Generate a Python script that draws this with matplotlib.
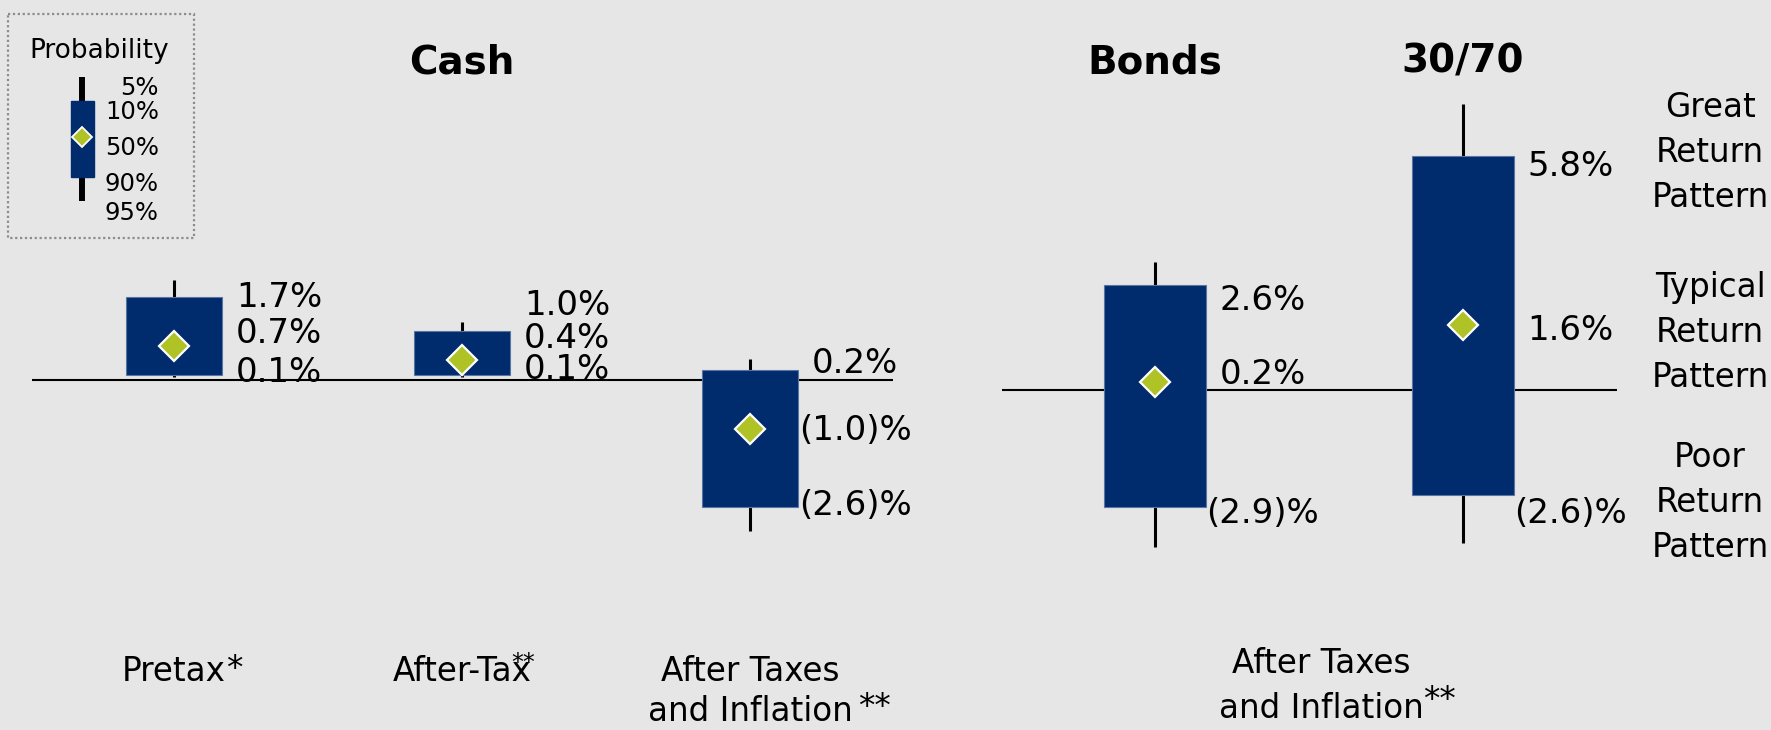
import matplotlib
matplotlib.use('Agg')
import matplotlib.pyplot as plt
from matplotlib.patches import Rectangle
import numpy as np

# ---------------- data ----------------
cash_title = 'Cash'
cash_categories = ['Pretax*', 'After-Tax**', 'After Taxes\nand Inflation**']
cash_whisker_hi = [2.05, 1.18, 0.43]
cash_box_hi = [1.7, 1.0, 0.2]
cash_median = [0.7, 0.4, -1.0]
cash_box_lo = [0.1, 0.1, -2.6]
cash_whisker_lo = [0.06, 0.06, -3.08]

mix_titles = ['Bonds', '30/70']
mix_category = 'After Taxes\nand Inflation**'
mix_whisker_hi = [3.17, 7.1]
mix_box_hi = [2.6, 5.8]
mix_median = [0.2, 1.6]
mix_box_lo = [-2.9, -2.6]
mix_whisker_lo = [-3.9, -3.8]

pattern_labels = [['Great', 'Return', 'Pattern'],
                  ['Typical', 'Return', 'Pattern'],
                  ['Poor', 'Return', 'Pattern']]
legend_title = 'Probability'
legend_pcts = ['5%', '10%', '50%', '90%', '95%']

# ---------------- style / layout ----------------
W, H, DPI = 1771, 730, 100
BG = '#e6e6e6'
NAVY = '#002b6d'
EDGE = '#5b75a3'
GREEN = '#afc326'
FS_VAL = 24.5

fig = plt.figure(figsize=(W / DPI, H / DPI), dpi=DPI, facecolor=BG)


def full_axes(x0_px, unit_x_px, zero_px_from_top, unit_y_px):
    ax = fig.add_axes([0, 0, 1, 1])
    ax.set_xlim(-x0_px / unit_x_px, (W - x0_px) / unit_x_px)
    zb = H - zero_px_from_top
    ax.set_ylim(-zb / unit_y_px, (H - zb) / unit_y_px)
    ax.set_axis_off()
    return ax


def fmt(v):
    return f'{v:.1f}%' if v >= 0 else f'({-v:.1f})%'


def draw_boxes(ax, whi, bhi, med, blo, wlo, width=0.33):
    x = np.arange(len(med))
    ax.vlines(x, wlo, whi, color='black', lw=2.2, zorder=2)
    ax.bar(x, np.array(bhi) - np.array(blo), bottom=blo, width=width,
           color=NAVY, edgecolor=EDGE, linewidth=0.8, zorder=3)
    ax.plot(x, med, ls='none', marker='D', ms=15.3, mfc=GREEN, mec='white',
            mew=1.6, zorder=4)


def draw_values(ax, bhi, med, blo, dx, offsets):
    for i in range(len(med)):
        for v, dy in zip([bhi[i], med[i], blo[i]], offsets[i]):
            ax.annotate(fmt(v), xy=(i + dx, v), xytext=(0, -dy),
                        textcoords='offset pixels', ha='center',
                        va='baseline', fontsize=FS_VAL, color='black',
                        zorder=5)


def draw_category(ax, x, label, base_px, spacing_px, star_off, star_fs, fs=23.5):
    base = label.rstrip('*')
    stars = label[len(base):]
    tr = ax.get_xaxis_transform()
    last = None
    for k, line in enumerate(base.split('\n')):
        yb = 1 - (base_px + k * spacing_px) / H
        last = ax.text(x, yb, line, transform=tr, ha='center', va='baseline',
                       fontsize=fs, color='black')
    if stars:
        ax.annotate(stars, xy=(1, 0), xycoords=last, xytext=star_off,
                    textcoords='offset pixels', ha='left', va='baseline',
                    fontsize=star_fs, color='black')


# ---------------- left panel: Cash ----------------
axL = full_axes(174, 288, 380, 49)
axL.hlines(0, -0.493, 2.497, color='black', lw=1.5, zorder=1)
draw_boxes(axL, cash_whisker_hi, cash_box_hi, cash_median, cash_box_lo,
           cash_whisker_lo)
draw_values(axL, cash_box_hi, cash_median, cash_box_lo, 0.365,
            [(10, -2.5, 7), (-16, -12, 3.5), (3, 11, 8)])
axL.text(1, 1 - 73 / H, cash_title, transform=axL.get_xaxis_transform(),
         ha='center', va='baseline', fontsize=28, fontweight='bold')
star_offsets = [(0, 9), (-20, 18), (6, 11)]
star_sizes = [23.5, 17, 23.5]
for i, lab in enumerate(cash_categories):
    draw_category(axL, i, lab, 681, 40, star_offsets[i], star_sizes[i])

# ---------------- right panel: Bonds & 30/70 ----------------
axR = full_axes(1155, 308, 390, 40.35)
axR.hlines(0, -0.497, 1.5, color='black', lw=1.5, zorder=1)
draw_boxes(axR, mix_whisker_hi, mix_box_hi, mix_median, mix_box_lo,
           mix_whisker_lo)
draw_values(axR, mix_box_hi, mix_median, mix_box_lo, 0.35,
            [(25, 2, 16), (20, 15, 28)])
for i, t in enumerate(mix_titles):
    axR.text(i, 1 - 73 / H, t, transform=axR.get_xaxis_transform(),
             ha='center', va='baseline', fontsize=28, fontweight='bold')
draw_category(axR, 0.539, mix_category, 673, 45, (0, 15), 23.5)

pattern_base_px = [117, 297, 467]
for grp, b in zip(pattern_labels, pattern_base_px):
    for k, line in enumerate(grp):
        axR.text(1.802, 1 - (b + 45 * k) / H, line,
                 transform=axR.get_xaxis_transform(), ha='center',
                 va='baseline', fontsize=23.5)

# ---------------- legend key ----------------
lax = fig.add_axes([7 / W, 1 - 239 / H, 188 / W, 226 / H])
lax.set_xlim(0, 188)
lax.set_ylim(226, 0)
lax.set_axis_off()
lax.add_patch(Rectangle((1, 1), 186, 224, fill=False, ec='#8c8c8c', lw=1.6,
                        ls=(0, (1, 1.2)), clip_on=False))
lax.text(92, 45, legend_title, ha='center', va='baseline', fontsize=19)
lax.vlines(75, 64, 188, color='black', lw=4.3, zorder=2)
lax.add_patch(Rectangle((64, 88), 23, 76, color=NAVY, zorder=3))
lax.plot([75], [124], marker='D', ms=9.7, mfc=GREEN, mec='white', mew=1.3,
         zorder=4)
leg_pos = [(152, 82, 'right'), (98, 106, 'left'), (98, 142, 'left'),
           (98, 178, 'left'), (98, 207, 'left')]
for txt, (x, y, ha) in zip(legend_pcts, leg_pos):
    lax.text(x, y, txt, ha=ha, va='baseline', fontsize=17.5)

fig.savefig('out.png', dpi=DPI, facecolor=BG)
